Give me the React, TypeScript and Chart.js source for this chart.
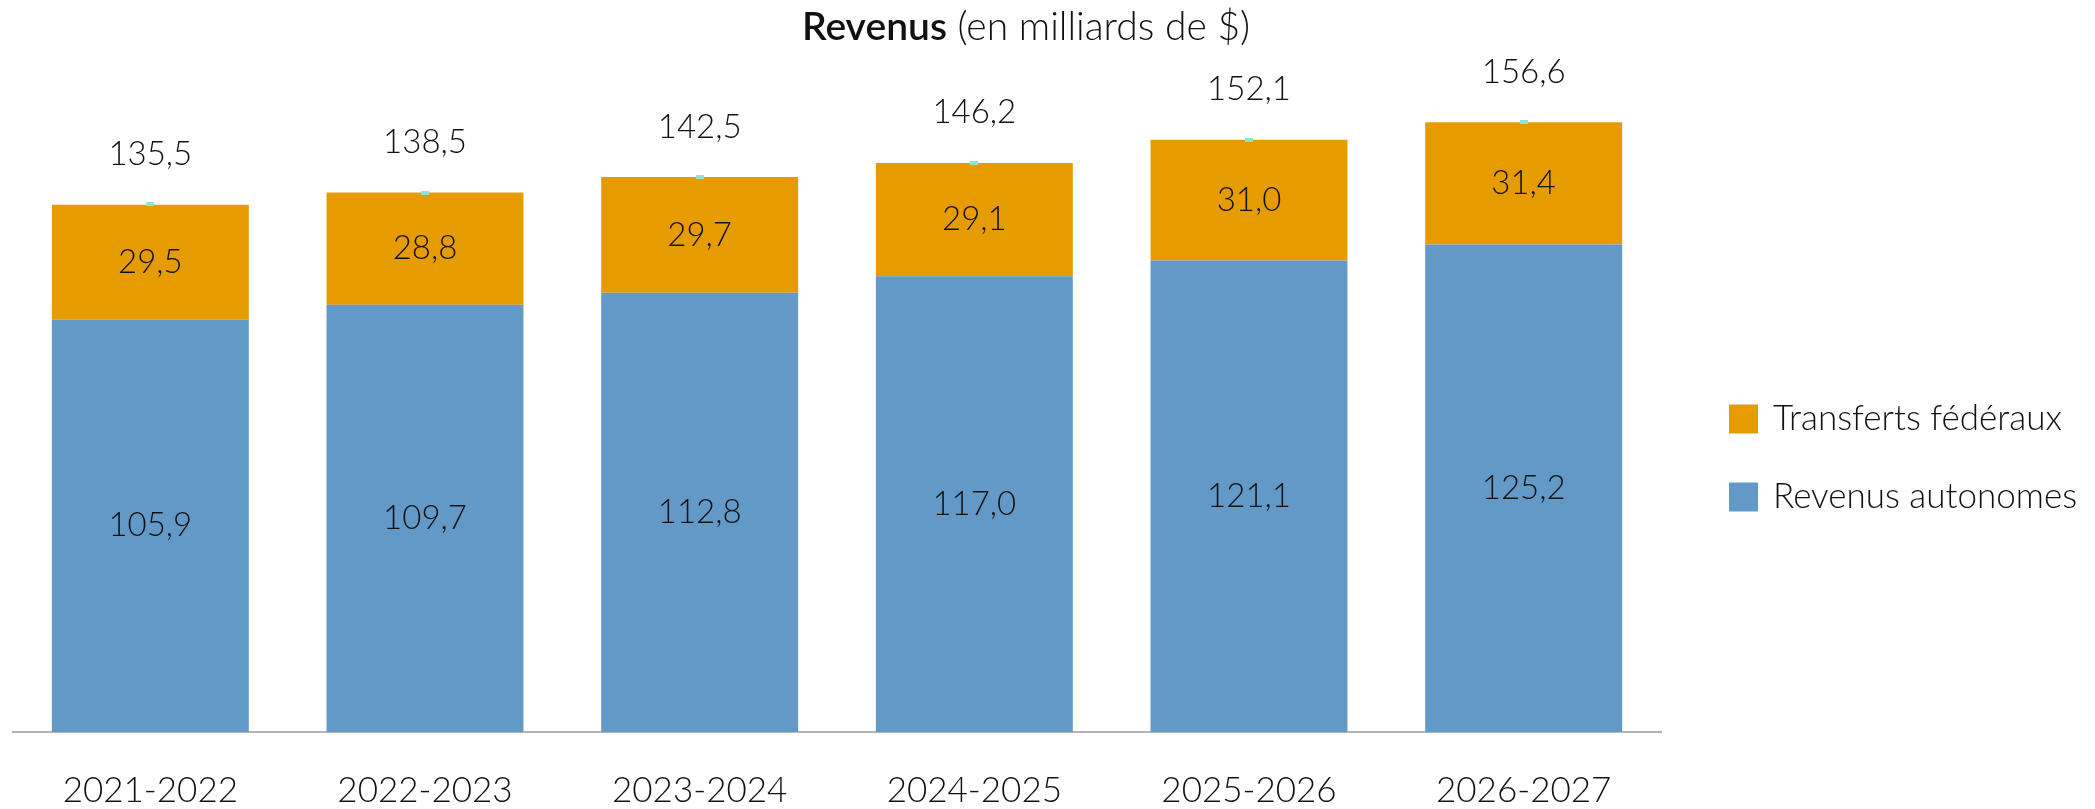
import React, { useEffect, useRef } from "react";
import { Chart, registerables } from "chart.js";

Chart.register(...registerables);

// ---- Data ----
const categories = ["2021-2022", "2022-2023", "2023-2024", "2024-2025", "2025-2026", "2026-2027"];
const revenusAutonomes = [105.9, 109.7, 112.8, 117.0, 121.1, 125.2];
const transfertsFederaux = [29.5, 28.8, 29.7, 29.1, 31.0, 31.4];
const totals = [135.5, 138.5, 142.5, 146.2, 152.1, 156.6];
const seriesLabels = ["Revenus autonomes", "Transferts fédéraux", "Total"];
const titleBold = "Revenus";
const titleRest = " (en milliards de $)";

const BLUE = "rgb(99,153,199)";
const ORANGE = "rgb(230,156,0)";
const TEAL = "rgb(143,226,212)";
const TEXT = "#111111";
const FONT = "Lato, 'Open Sans', sans-serif";

const fmt = (v: number) => v.toFixed(1).replace(".", ",");

const W = 2095;
const H = 809;

const labelsPlugin = {
  id: "customLabels",
  afterDatasetsDraw(chart: any) {
    const ctx = chart.ctx;
    ctx.save();
    ctx.fillStyle = TEXT;
    ctx.textAlign = "center";
    ctx.textBaseline = "middle";
    ctx.font = `300 33px ${FONT}`;
    chart.data.datasets.forEach((ds: any, di: number) => {
      const meta = chart.getDatasetMeta(di);
      if (ds.type === "bar") {
        meta.data.forEach((el: any, i: number) => {
          const cy = (el.y + el.base) / 2;
          ctx.fillText(fmt(ds.data[i]), el.x, cy);
        });
      } else {
        meta.data.forEach((el: any, i: number) => {
          ctx.fillText(fmt(ds.data[i]), el.x, el.y - 50);
        });
      }
    });
    ctx.restore();
  },
};

const titlePlugin = {
  id: "customTitle",
  afterDraw(chart: any) {
    const ctx = chart.ctx;
    ctx.save();
    ctx.fillStyle = TEXT;
    ctx.textBaseline = "middle";
    ctx.textAlign = "left";
    const boldFont = `600 39px ${FONT}`;
    const normFont = `300 39px ${FONT}`;
    ctx.font = boldFont;
    const w1 = ctx.measureText(titleBold).width;
    ctx.font = normFont;
    const w2 = ctx.measureText(titleRest).width;
    const cx = 1026;
    const x0 = cx - (w1 + w2) / 2;
    const y = 27;
    ctx.font = boldFont;
    ctx.fillText(titleBold, x0, y);
    ctx.font = normFont;
    ctx.fillText(titleRest, x0 + w1, y);
    ctx.restore();
  },
};

const legendPlugin = {
  id: "customLegend",
  afterDraw(chart: any) {
    const ctx = chart.ctx;
    ctx.save();
    const items = [1, 0].map((idx) => chart.data.datasets[idx]);
    const ys = [419, 497];
    ctx.font = `300 35px ${FONT}`;
    ctx.textBaseline = "middle";
    ctx.textAlign = "left";
    items.forEach((ds: any, k: number) => {
      ctx.fillStyle = ds.backgroundColor;
      ctx.fillRect(1729, ys[k] - 14.5, 29, 29);
      ctx.fillStyle = TEXT;
      ctx.fillText(ds.label, 1773, ys[k]);
    });
    ctx.restore();
  },
};

export default function App() {
  const ref = useRef<HTMLCanvasElement | null>(null);

  useEffect(() => {
    if (!ref.current) return;
    const marker = document.createElement("canvas");
    marker.width = 8;
    marker.height = 4;
    const mctx = marker.getContext("2d");
    if (mctx) {
      mctx.fillStyle = TEAL;
      mctx.fillRect(0, 0, 8, 4);
    }

    const chart = new Chart(ref.current, {
      type: "bar",
      data: {
        labels: categories,
        datasets: [
          {
            type: "bar",
            label: seriesLabels[0],
            data: revenusAutonomes,
            backgroundColor: BLUE,
            barPercentage: 0.717,
            categoryPercentage: 1,
            order: 2,
          } as any,
          {
            type: "bar",
            label: seriesLabels[1],
            data: transfertsFederaux,
            backgroundColor: ORANGE,
            barPercentage: 0.717,
            categoryPercentage: 1,
            order: 2,
          } as any,
          {
            type: "line",
            label: seriesLabels[2],
            data: totals,
            showLine: false,
            pointStyle: marker,
            pointRadius: 4,
            backgroundColor: TEAL,
            borderColor: TEAL,
            order: 0,
          } as any,
        ],
      },
      options: {
        responsive: false,
        animation: false,
        devicePixelRatio: 1,
        layout: { padding: { left: 13, right: W - 1661, top: 31, bottom: 0 } },
        plugins: {
          legend: { display: false },
          title: { display: false },
          tooltip: { enabled: false },
        },
        scales: {
          x: {
            stacked: true,
            grid: { display: false, drawTicks: false },
            border: { display: true, color: "#b4b4b4", width: 2 },
            ticks: {
              color: TEXT,
              font: { family: FONT, size: 35, weight: "300" as any, lineHeight: 1.2 },
              padding: 38,
            },
            afterFit: (scale: any) => {
              scale.height = 77;
            },
          },
          y: {
            stacked: true,
            display: false,
            min: 0,
            max: 180,
          },
        },
      } as any,
      plugins: [labelsPlugin, titlePlugin, legendPlugin],
    });
    return () => chart.destroy();
  }, []);

  return (
    <div style={{ position: "absolute", left: 0, top: 0, width: W, height: H, background: "#fff" }}>
      <canvas ref={ref} width={W} height={H} style={{ width: W, height: H, display: "block" }} />
    </div>
  );
}
